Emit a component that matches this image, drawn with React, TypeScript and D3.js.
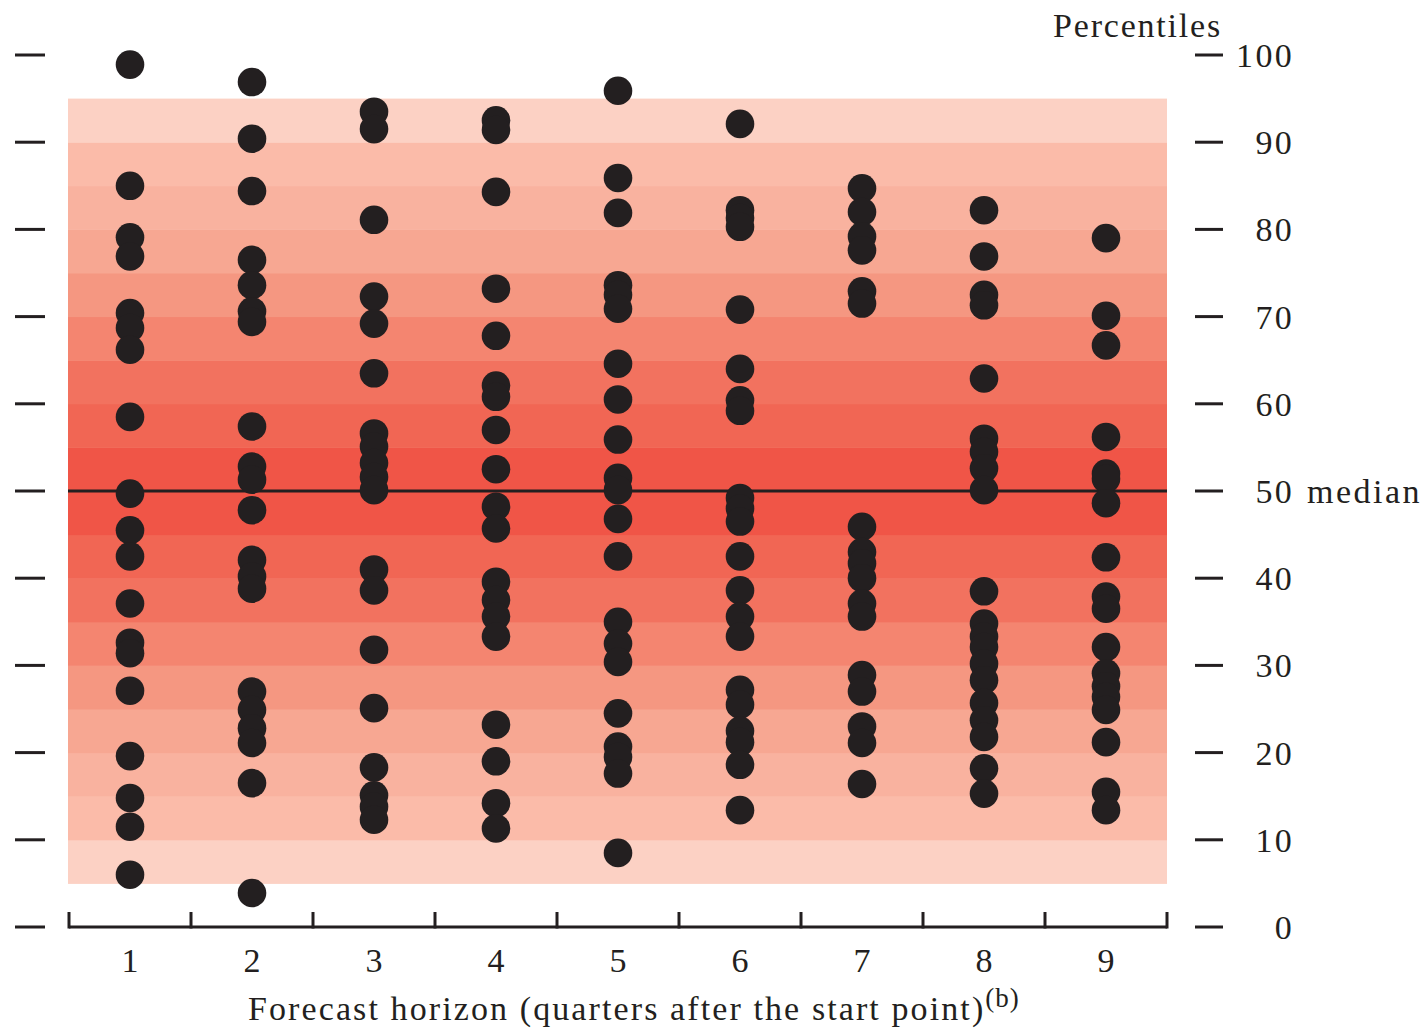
import React from "react";
import * as d3 from "d3";

// percentile ranks of each forecast, by horizon (quarters after start point)
const horizons = ["1", "2", "3", "4", "5", "6", "7", "8", "9"];

const h1 = [98.9, 85.0, 79.1, 76.9, 70.4, 68.7, 66.2, 58.5, 49.7, 45.5, 42.5, 37.1, 32.6, 31.4, 27.1, 19.6, 14.8, 11.5, 6.0];
const h2 = [96.9, 90.4, 84.4, 76.5, 73.6, 70.6, 69.4, 57.4, 52.8, 51.3, 47.8, 42.1, 40.2, 38.8, 27.0, 24.9, 22.8, 21.1, 16.5, 3.9];
const h3 = [93.5, 91.5, 81.1, 72.3, 69.2, 63.5, 56.6, 55.1, 53.2, 51.6, 50.1, 41.0, 38.6, 31.8, 25.1, 18.3, 15.1, 13.8, 12.3];
const h4 = [92.5, 91.4, 84.3, 73.2, 67.8, 62.1, 60.8, 57.0, 52.5, 48.2, 45.7, 39.6, 37.5, 35.6, 33.3, 23.2, 19.0, 14.2, 11.3];
const h5 = [95.9, 85.9, 81.9, 73.6, 72.5, 70.9, 64.6, 60.5, 55.9, 51.5, 50.1, 46.8, 42.5, 35.0, 32.5, 30.4, 24.5, 20.7, 19.5, 17.6, 8.5];
const h6 = [92.1, 82.2, 81.3, 80.3, 70.8, 64.0, 60.4, 59.2, 49.2, 48.0, 46.5, 42.5, 38.6, 35.6, 33.3, 27.2, 25.5, 22.5, 21.2, 18.6, 13.4];
const h7 = [84.7, 82.0, 79.2, 77.6, 72.9, 71.5, 45.9, 43.0, 41.7, 40.0, 37.1, 35.6, 28.9, 27.0, 23.0, 21.1, 16.4];
const h8 = [82.2, 76.9, 72.5, 71.3, 62.9, 56.0, 54.5, 52.6, 50.1, 38.5, 34.8, 33.3, 32.1, 30.2, 28.3, 25.7, 23.7, 21.8, 18.2, 15.3];
const h9 = [79.0, 70.1, 66.7, 56.2, 52.0, 51.4, 48.6, 42.4, 37.9, 36.5, 32.1, 29.1, 27.6, 26.4, 24.9, 21.2, 15.5, 13.4];

const series = [h1, h2, h3, h4, h5, h6, h7, h8, h9];

// shaded percentile bands, 5 to 95 in steps of 5
const bandEdges = [5, 10, 15, 20, 25, 30, 35, 40, 45, 50, 55, 60, 65, 70, 75, 80, 85, 90, 95];
// outermost band first, toward the median
const bandColors = ["#fcd1c4", "#fbbba9", "#f9b29f", "#f7a792", "#f59781", "#f48570", "#f2725f", "#f16654", "#f05547"];

const yTicks = [0, 10, 20, 30, 40, 50, 60, 70, 80, 90, 100];

const ink = "#231f20";
const font = "'Liberation Serif', 'Times New Roman', serif";

export default function App() {
  const width = 1427;
  const height = 1029;

  const y = d3.scaleLinear().domain([0, 100]).range([927, 55]);
  const x = d3.scaleBand().domain(horizons).range([69, 1167]).paddingInner(0).paddingOuter(0);
  const bw = x.bandwidth();
  const [x0, x1] = x.range();
  const edges = d3.range(horizons.length + 1).map((i) => x0 + i * x.step());

  const bands = bandEdges.slice(0, -1).map((lo, i) => {
    const hi = bandEdges[i + 1];
    const n = bandEdges.length - 1;
    const idx = Math.min(i, n - 1 - i);
    return { lo, hi, color: bandColors[idx] };
  });

  return (
    <svg
      width={width}
      height={height}
      style={{ position: "absolute", left: 0, top: 0, background: "#fff" }}
      fontFamily={font}
    >
      {/* percentile bands */}
      {bands.map((b, i) => (
        <rect
          key={i}
          x={x0 - 1}
          width={x1 - x0 + 1}
          y={y(b.hi)}
          height={y(b.lo) - y(b.hi) + 0.5}
          fill={b.color}
        />
      ))}

      {/* median line */}
      <line x1={x0 - 1} x2={x1} y1={y(50)} y2={y(50)} stroke={ink} strokeWidth={3} />

      {/* left ticks */}
      {yTicks.map((t) => (
        <line key={"l" + t} x1={15} x2={45} y1={y(t)} y2={y(t)} stroke={ink} strokeWidth={3} />
      ))}

      {/* right ticks and labels */}
      {yTicks.map((t) => (
        <g key={"r" + t}>
          <line x1={1195} x2={1223} y1={y(t)} y2={y(t)} stroke={ink} strokeWidth={3} />
          <text
            x={1294}
            y={y(t)}
            dy="0.35em"
            textAnchor="end"
            fontSize={34}
            letterSpacing={2.3}
            fill={ink}
          >
            {t}
          </text>
        </g>
      ))}
      <text x={1307} y={y(50)} dy="0.35em" fontSize={34} letterSpacing={2.5} fill={ink}>
        median
      </text>
      <text x={1222} y={37} textAnchor="end" fontSize={34} letterSpacing={1.8} fill={ink}>
        Percentiles
      </text>

      {/* dots */}
      {series.map((vals, i) =>
        vals.map((v, j) => (
          <circle
            key={i + "-" + j}
            cx={(x(horizons[i]) as number) + bw / 2}
            cy={y(v)}
            r={14.3}
            fill={ink}
          />
        ))
      )}

      {/* x axis */}
      <line x1={x0} x2={x1} y1={y(0)} y2={y(0)} stroke={ink} strokeWidth={3} />
      {edges.map((e, i) => (
        <line key={"t" + i} x1={e} x2={e} y1={y(0) + 1.5} y2={y(0) - 15} stroke={ink} strokeWidth={3} />
      ))}
      {horizons.map((h) => (
        <text
          key={"xl" + h}
          x={(x(h) as number) + bw / 2}
          y={972}
          textAnchor="middle"
          fontSize={34}
          fill={ink}
        >
          {h}
        </text>
      ))}

      <text x={248} y={1020} fontSize={34} letterSpacing={2.1} fill={ink}>
        Forecast horizon (quarters after the start point)
        <tspan fontSize={27} dy={-13} letterSpacing={1}>
          (b)
        </tspan>
      </text>
    </svg>
  );
}
